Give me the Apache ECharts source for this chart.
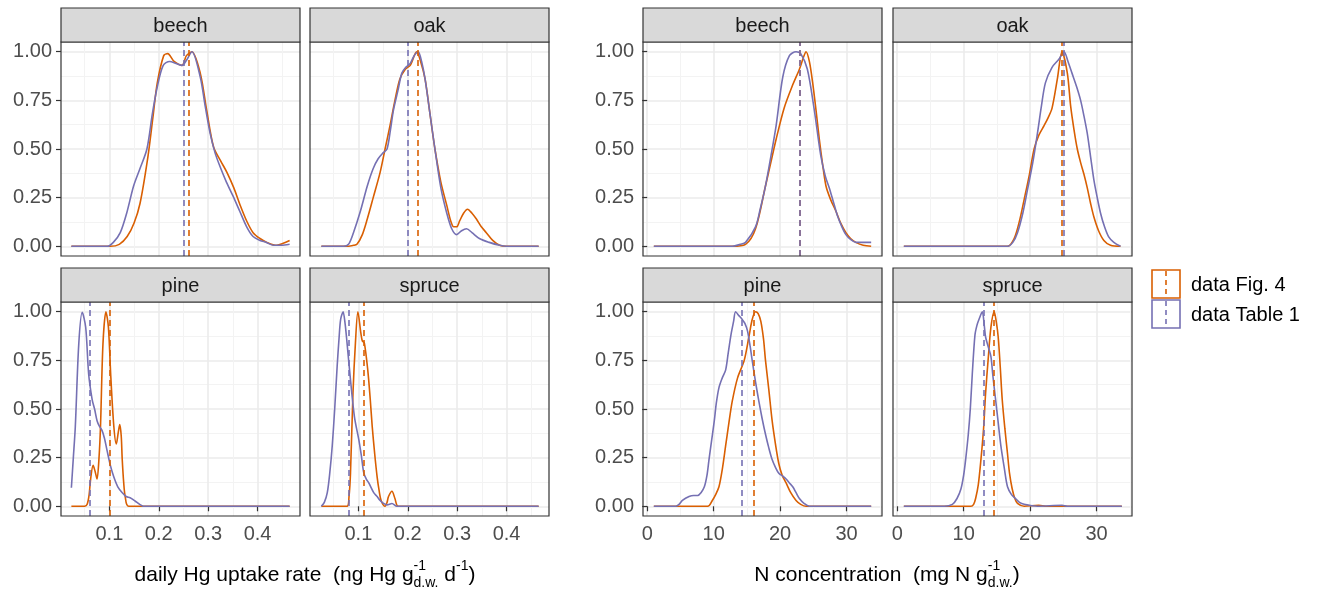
<!DOCTYPE html>
<html>
<head>
<meta charset="utf-8">
<script src="https://cdn.jsdelivr.net/npm/echarts@6/dist/echarts.min.js"></script>
<style>
html, body { margin: 0; padding: 0; background: #fff; }
#chart { width: 1322px; height: 589px; }
</style>
</head>
<body>
<div id="chart"></div>
<script>
// ---- data ----
var species = ['beech', 'oak', 'pine', 'spruce'];
var seriesNames = ['data Fig. 4', 'data Table 1'];

var hgTicks = [0.1, 0.2, 0.3, 0.4];
var hgMinor = [0.05, 0.15, 0.25, 0.35, 0.45];
var nTicks = [0, 10, 20, 30];
var nMinor = [5, 15, 25, 35];
var yTicks = [0, 0.25, 0.5, 0.75, 1];
var yMinor = [0.125, 0.375, 0.625, 0.875];

// daily Hg uptake rate, scaled densities [x, y]
var hgFig4Beech = [[0.023,0],[0.102,0],[0.120,0.01],[0.136,0.05],[0.150,0.12],[0.162,0.22],[0.178,0.46],[0.188,0.66],[0.197,0.84],[0.210,0.98],[0.218,0.99],[0.231,0.95],[0.247,0.93],[0.256,0.98],[0.267,1.0],[0.284,0.89],[0.297,0.70],[0.311,0.51],[0.325,0.44],[0.338,0.38],[0.352,0.30],[0.365,0.21],[0.378,0.13],[0.391,0.07],[0.405,0.04],[0.419,0.02],[0.439,0.005],[0.452,0.015],[0.465,0.03]];
var hgTab1Beech = [[0.023,0],[0.096,0],[0.108,0.02],[0.122,0.07],[0.135,0.17],[0.149,0.31],[0.162,0.40],[0.176,0.50],[0.187,0.68],[0.197,0.82],[0.209,0.93],[0.222,0.95],[0.235,0.94],[0.247,0.93],[0.257,0.96],[0.267,1.0],[0.284,0.87],[0.294,0.72],[0.304,0.58],[0.314,0.48],[0.324,0.41],[0.337,0.33],[0.350,0.26],[0.364,0.18],[0.378,0.10],[0.391,0.05],[0.405,0.03],[0.418,0.02],[0.432,0.005],[0.448,0.005],[0.465,0.01]];
var hgFig4Oak = [[0.025,0],[0.075,0],[0.090,0.005],[0.097,0.01],[0.108,0.06],[0.118,0.14],[0.130,0.25],[0.144,0.38],[0.154,0.50],[0.164,0.62],[0.174,0.75],[0.184,0.86],[0.195,0.91],[0.205,0.93],[0.218,1.0],[0.226,0.95],[0.235,0.86],[0.245,0.68],[0.255,0.50],[0.267,0.33],[0.279,0.21],[0.287,0.13],[0.293,0.10],[0.299,0.10],[0.305,0.13],[0.313,0.17],[0.321,0.19],[0.330,0.17],[0.339,0.14],[0.349,0.10],[0.359,0.07],[0.372,0.03],[0.386,0.005],[0.399,0],[0.465,0]];
var hgTab1Oak = [[0.025,0],[0.070,0],[0.080,0.01],[0.090,0.07],[0.104,0.18],[0.118,0.31],[0.130,0.40],[0.140,0.45],[0.150,0.48],[0.158,0.50],[0.165,0.60],[0.171,0.70],[0.180,0.80],[0.188,0.89],[0.196,0.92],[0.205,0.94],[0.213,0.98],[0.221,1.0],[0.228,0.95],[0.235,0.86],[0.245,0.68],[0.255,0.50],[0.267,0.30],[0.279,0.17],[0.289,0.09],[0.299,0.06],[0.309,0.08],[0.319,0.09],[0.330,0.07],[0.345,0.04],[0.365,0.02],[0.386,0.005],[0.400,0],[0.465,0]];
var hgFig4Pine = [[0.023,0],[0.050,0],[0.055,0.01],[0.059,0.06],[0.062,0.14],[0.067,0.21],[0.071,0.18],[0.075,0.14],[0.079,0.25],[0.082,0.41],[0.087,0.835],[0.093,1.0],[0.098,0.92],[0.103,0.66],[0.109,0.41],[0.114,0.32],[0.118,0.38],[0.121,0.42],[0.124,0.36],[0.126,0.24],[0.129,0.12],[0.132,0.05],[0.139,0],[0.465,0]];
var hgTab1Pine = [[0.023,0.095],[0.027,0.25],[0.031,0.41],[0.038,0.835],[0.045,0.997],[0.052,0.92],[0.058,0.68],[0.065,0.55],[0.070,0.50],[0.075,0.44],[0.080,0.41],[0.085,0.39],[0.090,0.35],[0.095,0.29],[0.102,0.21],[0.109,0.15],[0.117,0.10],[0.126,0.07],[0.134,0.05],[0.142,0.044],[0.150,0.03],[0.156,0.02],[0.163,0.007],[0.169,0],[0.465,0]];
var hgFig4Spruce = [[0.025,0],[0.077,0],[0.081,0.05],[0.084,0.17],[0.089,0.58],[0.094,0.84],[0.099,1.0],[0.105,0.89],[0.108,0.85],[0.112,0.84],[0.119,0.70],[0.124,0.55],[0.128,0.41],[0.133,0.27],[0.138,0.15],[0.142,0.08],[0.146,0.03],[0.154,0],[0.158,0.02],[0.161,0.05],[0.168,0.077],[0.174,0.04],[0.181,0],[0.465,0]];
var hgTab1Spruce = [[0.025,0],[0.031,0.02],[0.037,0.07],[0.042,0.17],[0.047,0.31],[0.052,0.50],[0.057,0.72],[0.061,0.87],[0.064,0.96],[0.069,1.0],[0.073,0.94],[0.077,0.84],[0.084,0.65],[0.092,0.46],[0.101,0.34],[0.106,0.26],[0.111,0.17],[0.116,0.14],[0.121,0.12],[0.131,0.07],[0.138,0.05],[0.144,0.03],[0.151,0.015],[0.158,0.007],[0.168,0.014],[0.178,0],[0.465,0]];

// N concentration, scaled densities [x, y]
var nFig4Beech = [[1.0,0],[12.8,0],[14.8,0.01],[16.3,0.09],[17.8,0.31],[18.6,0.43],[19.4,0.55],[20.6,0.71],[21.9,0.83],[22.9,0.91],[23.5,0.97],[23.9,1.0],[24.4,0.95],[24.9,0.84],[25.4,0.70],[25.9,0.55],[26.4,0.42],[26.9,0.31],[27.6,0.24],[28.4,0.18],[29.1,0.12],[29.9,0.07],[30.6,0.04],[31.4,0.02],[32.5,0.005],[33.7,0]];
var nTab1Beech = [[1.0,0],[12.8,0],[14.0,0.01],[14.8,0.02],[16.3,0.10],[17.0,0.19],[17.8,0.31],[18.6,0.46],[19.4,0.62],[20.4,0.87],[21.4,0.98],[22.4,1.0],[23.1,0.99],[24.1,0.91],[25.1,0.71],[26.1,0.47],[26.8,0.36],[27.4,0.30],[28.0,0.23],[28.6,0.16],[29.3,0.10],[29.9,0.06],[30.6,0.035],[31.4,0.02],[32.5,0.02],[33.7,0.02]];
var nFig4Oak = [[1.0,0],[16.6,0],[17.6,0.04],[18.4,0.13],[19.1,0.24],[19.9,0.37],[20.6,0.50],[21.3,0.57],[22.1,0.62],[22.7,0.66],[23.3,0.71],[24.1,0.86],[24.8,1.0],[25.6,0.89],[26.1,0.72],[26.6,0.60],[27.1,0.50],[27.6,0.43],[28.1,0.37],[28.6,0.30],[29.1,0.22],[29.6,0.15],[30.3,0.08],[31.1,0.03],[32.1,0.005],[33.6,0]];
var nTab1Oak = [[1.0,0],[16.6,0],[17.4,0.02],[18.1,0.07],[18.9,0.17],[19.6,0.29],[20.4,0.43],[21.1,0.58],[21.7,0.72],[22.3,0.84],[23.3,0.92],[24.3,0.96],[25.1,1.0],[25.7,0.95],[26.3,0.89],[27.0,0.82],[27.6,0.75],[28.1,0.67],[28.6,0.58],[29.1,0.46],[29.6,0.34],[30.1,0.25],[30.6,0.17],[31.2,0.10],[31.8,0.05],[32.6,0.02],[33.6,0]];
var nFig4Pine = [[1.0,0],[9.1,0],[9.8,0.03],[10.3,0.06],[10.8,0.10],[11.3,0.19],[11.8,0.31],[12.3,0.43],[12.8,0.54],[13.6,0.66],[14.6,0.75],[15.3,0.87],[15.8,0.96],[16.3,1.0],[16.7,0.99],[17.1,0.95],[17.5,0.86],[17.8,0.75],[18.3,0.60],[18.8,0.44],[19.3,0.32],[19.8,0.22],[20.3,0.16],[20.9,0.12],[21.6,0.07],[22.4,0.03],[23.1,0.01],[23.9,0],[33.7,0]];
var nTab1Pine = [[1.0,0],[4.3,0],[4.8,0.01],[5.3,0.03],[6.3,0.05],[7.0,0.055],[7.6,0.055],[8.1,0.07],[8.6,0.10],[9.0,0.16],[9.3,0.24],[9.7,0.34],[10.1,0.44],[10.4,0.53],[10.8,0.61],[11.3,0.66],[11.8,0.70],[12.2,0.79],[12.6,0.88],[13.0,0.95],[13.3,1.0],[13.8,0.98],[14.3,0.96],[14.7,0.94],[15.1,0.90],[15.5,0.82],[15.8,0.75],[16.3,0.64],[16.8,0.54],[17.3,0.45],[17.8,0.37],[18.3,0.30],[18.8,0.24],[19.3,0.20],[19.8,0.17],[20.4,0.155],[20.9,0.14],[21.4,0.12],[21.9,0.10],[22.4,0.07],[22.9,0.04],[23.6,0.015],[24.4,0],[33.7,0]];
var nFig4Spruce = [[1.0,0],[11.1,0],[11.5,0.01],[11.8,0.04],[12.2,0.11],[12.6,0.24],[13.0,0.40],[13.3,0.58],[13.7,0.76],[14.1,0.92],[14.6,1.0],[14.9,0.95],[15.2,0.87],[15.5,0.72],[15.8,0.55],[16.2,0.40],[16.6,0.27],[16.9,0.17],[17.3,0.09],[17.7,0.04],[18.1,0.015],[19.1,0],[21.3,0.005],[22.4,0],[33.8,0]];
var nTab1Spruce = [[1.0,0],[7.1,0],[8.3,0.01],[9.0,0.04],[9.6,0.09],[10.0,0.16],[10.3,0.24],[10.7,0.37],[11.0,0.50],[11.3,0.68],[11.7,0.88],[12.0,0.93],[12.3,0.96],[12.8,1.0],[13.1,0.93],[13.3,0.87],[13.7,0.82],[14.1,0.77],[14.4,0.67],[14.8,0.55],[15.2,0.43],[15.6,0.31],[16.1,0.20],[16.6,0.10],[17.2,0.06],[17.8,0.04],[18.4,0.02],[19.1,0.01],[21.1,0],[24.8,0.005],[25.6,0],[33.8,0]];

// means (dashed vertical lines), order: beech, oak, pine, spruce
var hgMeanFig4 = [0.258, 0.216, 0.097, 0.111];
var hgMeanTab1 = [0.249, 0.203, 0.063, 0.079];
var nMeanFig4 = [22.9, 24.8, 16.0, 14.6];
var nMeanTab1 = [22.9, 25.0, 14.2, 13.0];

// ---- layout / style ----
var colors = ['#D95F02', '#7570B3'];
var font = "'Liberation Sans', Arial, sans-serif";
var colX = [61, 310, 643, 893];
var rowY = [42, 302];
var panelW = 239, panelH = 214, stripH = 34;

var groups = [
  { ticks: hgTicks, minor: hgMinor, min: 0.002, max: 0.486,
    fig4: [hgFig4Beech, hgFig4Oak, hgFig4Pine, hgFig4Spruce],
    tab1: [hgTab1Beech, hgTab1Oak, hgTab1Pine, hgTab1Spruce],
    meanFig4: hgMeanFig4, meanTab1: hgMeanTab1 },
  { ticks: nTicks, minor: nMinor, min: -0.63, max: 35.33,
    fig4: [nFig4Beech, nFig4Oak, nFig4Pine, nFig4Spruce],
    tab1: [nTab1Beech, nTab1Oak, nTab1Pine, nTab1Spruce],
    meanFig4: nMeanFig4, meanTab1: nMeanTab1 }
];

var grids = [], xAxes = [], yAxes = [], series = [], graphics = [];

groups.forEach(function (g, gi) {
  species.forEach(function (sp, si) {
    var row = Math.floor(si / 2), col = gi * 2 + (si % 2);
    var p = grids.length;
    var bottom = row === 1, left = (si % 2) === 0;
    grids.push({ left: colX[col], top: rowY[row], width: panelW, height: panelH,
      show: true, backgroundColor: '#fff', borderWidth: 0 });

    // minor grid (index 2p) then major (2p+1)
    xAxes.push({ gridIndex: p, type: 'value', min: g.min, max: g.max, position: 'top',
      axisLine: { show: false }, axisLabel: { show: false, customValues: g.minor },
      axisTick: { show: false, customValues: g.minor },
      splitLine: { show: true, lineStyle: { color: '#F3F3F3', width: 1 } } });
    xAxes.push({ gridIndex: p, type: 'value', min: g.min, max: g.max, position: 'bottom',
      axisLine: { show: false },
      axisTick: { show: bottom, customValues: g.ticks, length: 5, lineStyle: { color: '#333', width: 1.2 } },
      axisLabel: { show: bottom, customValues: g.ticks, margin: 8, color: '#4D4D4D',
        fontSize: 20, fontFamily: font },
      splitLine: { show: true, lineStyle: { color: '#EBEBEB', width: 1.6 } } });
    yAxes.push({ gridIndex: p, type: 'value', min: -0.05, max: 1.05, position: 'right',
      axisLine: { show: false }, axisLabel: { show: false, customValues: yMinor },
      axisTick: { show: false, customValues: yMinor },
      splitLine: { show: true, lineStyle: { color: '#F3F3F3', width: 1 } } });
    yAxes.push({ gridIndex: p, type: 'value', min: -0.05, max: 1.05, position: 'left',
      axisLine: { show: false },
      axisTick: { show: left, customValues: yTicks, length: 5, lineStyle: { color: '#333', width: 1.2 } },
      axisLabel: { show: left, customValues: yTicks, margin: 9, color: '#4D4D4D',
        fontSize: 20, fontFamily: font, formatter: function (v) { return v.toFixed(2); } },
      splitLine: { show: true, lineStyle: { color: '#EBEBEB', width: 1.6 } } });

    [[g.fig4[si], g.meanFig4[si]], [g.tab1[si], g.meanTab1[si]]].forEach(function (d, k) {
      series.push({
        name: seriesNames[k], type: 'line', xAxisIndex: 2 * p + 1, yAxisIndex: 2 * p + 1,
        data: d[0], showSymbol: false, smooth: 0.3, silent: true, z: 3 + k,
        lineStyle: { color: colors[k], width: 1.6 },
        markLine: { symbol: 'none', silent: true, label: { show: false },
          lineStyle: { color: colors[k], width: 1.6, type: [6, 4] },
          data: [{ xAxis: d[1] }] }
      });
    });

    // panel border + facet strip
    graphics.push({ type: 'rect', z: 100, silent: true,
      shape: { x: colX[col], y: rowY[row], width: panelW, height: panelH },
      style: { fill: null, stroke: '#333', lineWidth: 1.2 } });
    graphics.push({ type: 'rect', z: 100, silent: true,
      shape: { x: colX[col], y: rowY[row] - stripH, width: panelW, height: stripH },
      style: { fill: '#D9D9D9', stroke: '#333', lineWidth: 1.2 } });
    graphics.push({ type: 'text', z: 101, silent: true,
      x: colX[col] + panelW / 2, y: rowY[row] - stripH / 2 + 1,
      style: { text: sp, fill: '#1A1A1A', font: '20px ' + font, align: 'center', verticalAlign: 'middle' } });
  });
});

// axis titles with super/subscripts
var ctx = document.createElement('canvas').getContext('2d');
function textW(t, size) { ctx.font = size + 'px ' + font; return ctx.measureText(t).width; }
function axisTitle(parts, cx, mid) {
  var big = 21, small = 14, w = 0;
  parts.forEach(function (pt) {
    pt.w = pt[0] === 'n' ? textW(pt[1], big) :
      pt[0] === 'ss' ? Math.max(textW(pt[1], small), textW(pt[2], small)) : textW(pt[1], small);
    w += pt.w;
  });
  var x = cx - w / 2;
  parts.forEach(function (pt) {
    var items = pt[0] === 'n' ? [[pt[1], big, 0]] :
      pt[0] === 'ss' ? [[pt[1], small, -9], [pt[2], small, 8]] : [[pt[1], small, -9]];
    items.forEach(function (it) {
      graphics.push({ type: 'text', silent: true, x: x, y: mid + it[2],
        style: { text: it[0], fill: '#000', font: it[1] + 'px ' + font, align: 'left', verticalAlign: 'middle' } });
    });
    x += pt.w;
  });
}
axisTitle([['n', 'daily Hg uptake rate  (ng Hg g'], ['ss', '-1', 'd.w.'], ['n', ' d'], ['sup', '-1'], ['n', ')']], 305, 575);
axisTitle([['n', 'N concentration  (mg N g'], ['ss', '-1', 'd.w.'], ['n', ')']], 887, 575);

// legend
seriesNames.forEach(function (name, k) {
  var ky = 270 + k * 30;
  graphics.push({ type: 'rect', silent: true, shape: { x: 1152, y: ky, width: 28, height: 28 },
    style: { fill: '#fff', stroke: colors[k], lineWidth: 1.6 } });
  graphics.push({ type: 'line', silent: true, shape: { x1: 1166, y1: ky + 1, x2: 1166, y2: ky + 27 },
    style: { stroke: colors[k], lineWidth: 1.6, lineDash: [5, 4] } });
  graphics.push({ type: 'text', silent: true, x: 1191, y: ky + 15,
    style: { text: name, fill: '#000', font: '20px ' + font, align: 'left', verticalAlign: 'middle' } });
});

var chart = echarts.init(document.getElementById('chart'), null, { renderer: 'canvas' });
chart.setOption({
  backgroundColor: '#fff',
  animation: false,
  grid: grids,
  xAxis: xAxes,
  yAxis: yAxes,
  series: series,
  graphic: graphics
});
</script>
</body>
</html>
